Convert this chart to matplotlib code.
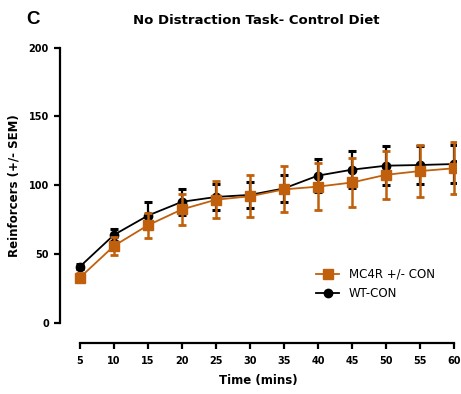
import matplotlib
matplotlib.use("Agg")
import matplotlib.pyplot as plt
from matplotlib.lines import Line2D

plt.rcParams['font.family'] = ['DejaVu Sans']

# Session time points (minutes)
time_mins = [5, 10, 15, 20, 25, 30, 35, 40, 45, 50, 55, 60]

# Cumulative reinforcers, mean and SEM per genotype
wt_mean = [41, 64, 78, 88, 91.5, 93, 97.7, 107, 111.3, 114.2, 114.7, 115.4]
wt_sem = [2, 4.5, 10, 9.5, 9.7, 9.5, 10, 12, 13.5, 14, 14, 13.5]
mc4r_mean = [33, 56, 71, 82.5, 89.5, 92, 97, 99, 102, 107.6, 110.3, 112.3]
mc4r_sem = [3, 6.5, 9, 11.5, 13.5, 15.3, 16.7, 17, 17.5, 17.6, 19, 19]

series_labels = ["MC4R +/- CON", "WT-CON"]
x_ticks = time_mins
y_ticks = [0, 50, 100, 150, 200]

ORANGE = "#C0600C"
W, H = 461, 394
fig = plt.figure(figsize=(W / 100, H / 100), dpi=100)
ax = fig.add_axes([60 / W, (H - 323) / H, 396 / W, 275.5 / H])

# WT drawn first so the MC4R series sits on top
ax.errorbar(time_mins, wt_mean, yerr=wt_sem, color="black", lw=1.3,
            marker="o", ms=6, elinewidth=1.6, capsize=3, capthick=2.2,
            zorder=2)
ax.errorbar(time_mins, mc4r_mean, yerr=mc4r_sem, color=ORANGE, lw=1.3,
            marker="s", ms=6.5, elinewidth=1.8, capsize=3, capthick=2,
            zorder=3)

ax.set_xlim(5 - 20 / 6.8, 60 + 2 / 6.8)
ax.set_ylim(0, 200)
ax.set_xticks(x_ticks)
ax.set_yticks(y_ticks)

for side in ("top", "right"):
    ax.spines[side].set_visible(False)
ax.spines["left"].set_linewidth(1.6)
ax.spines["bottom"].set_linewidth(1.6)
ax.spines["bottom"].set_position(("outward", 14.4))
ax.spines["bottom"].set_bounds(5, 60)
ax.tick_params(axis="both", width=1.6, length=4, labelsize=7)
ax.tick_params(axis="x", pad=5)
ax.tick_params(axis="y", pad=4)
for lbl in ax.get_xticklabels() + ax.get_yticklabels():
    lbl.set_fontweight("bold")

ax.set_xlabel("Time (mins)", fontsize=8.5, fontweight="bold", labelpad=6)
ax.set_ylabel("Reinforcers (+/- SEM)", fontsize=8.5, fontweight="bold",
              labelpad=6)

fig.text(256 / W, 1 - 20 / H, "No Distraction Task- Control Diet",
         ha="center", va="center", fontsize=9.5, fontweight="bold")
fig.text(26 / W, 1 - 19 / H, "C", ha="left", va="center",
         fontsize=13.5, fontweight="bold", family="Liberation Sans")

handles = [
    Line2D([], [], color=ORANGE, marker="s", ms=6.5, lw=1.3),
    Line2D([], [], color="black", marker="o", ms=6, lw=1.3),
]
ax.legend(handles, series_labels, loc="upper left",
          bbox_to_anchor=(311 / W, 1 - 263 / H), bbox_transform=fig.transFigure,
          frameon=False, fontsize=8.5, handlelength=2, handletextpad=0.8,
          labelspacing=0.55, borderaxespad=0)

fig.savefig("out.png", dpi=100)
